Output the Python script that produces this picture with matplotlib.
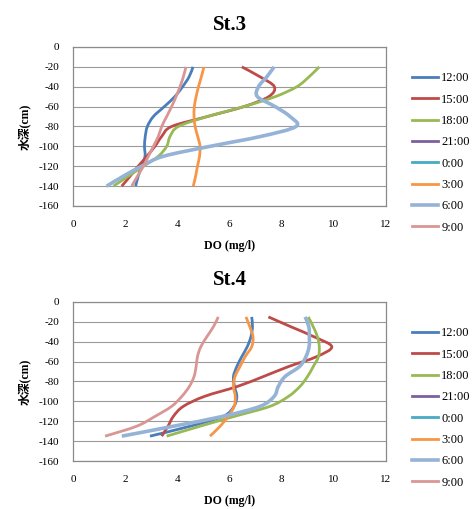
import matplotlib
matplotlib.use("Agg")
from matplotlib import pyplot as plt
from matplotlib.path import Path
from matplotlib.patches import PathPatch
import numpy as np

plt.rcParams['font.family'] = ['Liberation Serif', 'Noto Sans CJK JP']
plt.rcParams['axes.unicode_minus'] = False

# 水深 (cm)
depth3 = [-20, -30, -40, -50, -60, -70, -80, -90, -100, -110, -120, -130, -140]
depth4 = [-15, -25, -35, -45, -55, -65, -75, -85, -95, -105, -115, -125, -135]

times = ["12:00", "15:00", "18:00", "21:00", "0:00", "3:00", "6:00", "9:00"]
colors = ["#4A7EBB", "#BE4B48", "#98B954", "#7D60A0", "#46AAC5", "#F79646", "#95B3D7", "#D99694"]
widths = [2.0, 2.0, 2.0, 2.0, 2.0, 2.0, 2.6, 2.0]

# St.3 DO (mg/l)
s3_1200 = [4.60, 4.45, 4.20, 3.90, 3.50, 3.08, 2.85, 2.77, 2.74, 2.76, 2.63, 2.50, 2.40]
s3_1500 = [6.47, 7.17, 7.72, 7.50, 6.55, 5.15, 3.78, 3.40, 3.14, 2.83, 2.50, 2.19, 1.87]
s3_1800 = [9.44, 9.05, 8.58, 7.75, 6.55, 5.15, 4.04, 3.72, 3.59, 3.27, 2.70, 2.12, 1.55]
s3_2100 = []
s3_0000 = []
s3_0300 = [5.02, 4.92, 4.81, 4.72, 4.65, 4.64, 4.68, 4.78, 4.87, 4.85, 4.77, 4.70, 4.61]
s3_0600 = [7.71, 7.43, 7.11, 7.07, 7.75, 8.32, 8.55, 7.20, 5.25, 3.46, 2.63, 1.93, 1.29]
s3_0900 = [4.33, 4.23, 4.10, 3.95, 3.78, 3.59, 3.40, 3.27, 3.08, 2.89, 2.70, 2.47, 2.25]

# St.4 DO (mg/l)
s4_1200 = [6.85, 6.88, 6.82, 6.68, 6.47, 6.28, 6.15, 6.19, 6.28, 6.17, 5.76, 4.49, 2.95]
s4_1500 = [7.49, 8.36, 9.24, 9.92, 9.34, 8.26, 7.30, 6.30, 5.04, 4.23, 3.85, 3.64, 3.40]
s4_1800 = [9.02, 9.21, 9.37, 9.44, 9.41, 9.21, 8.99, 8.70, 8.26, 7.55, 6.20, 4.87, 3.59]
s4_2100 = []
s4_0000 = []
s4_0300 = [6.63, 6.78, 6.90, 6.85, 6.60, 6.40, 6.21, 6.15, 6.22, 6.18, 5.95, 5.64, 5.25]
s4_0600 = [8.90, 9.04, 9.06, 9.05, 8.93, 8.68, 8.13, 7.87, 7.71, 7.17, 5.76, 3.85, 1.87]
s4_0900 = [5.57, 5.38, 5.13, 4.90, 4.77, 4.72, 4.64, 4.46, 4.17, 3.78, 3.15, 2.44, 1.23]

st3 = [s3_1200, s3_1500, s3_1800, s3_2100, s3_0000, s3_0300, s3_0600, s3_0900]
st4 = [s4_1200, s4_1500, s4_1800, s4_2100, s4_0000, s4_0300, s4_0600, s4_0900]


# 平滑線 (Catmull-Rom -> cubic bezier)
def smoothPath(xs, ys):
    p = np.column_stack([xs, ys]).astype(float)
    n = len(p)
    verts = [p[0]]
    codes = [Path.MOVETO]
    for i in range(n - 1):
        p0 = p[i - 1] if i > 0 else p[i]
        p3 = p[i + 2] if i + 2 < n else p[i + 1]
        c1 = p[i] + (p[i + 1] - p0) / 6.0
        c2 = p[i + 1] - (p3 - p[i]) / 6.0
        verts += [c1, c2, p[i + 1]]
        codes += [Path.CURVE4] * 3
    return Path(verts, codes)


def drawStation(ax, title, depth, series):
    for vals, c, w, lab in zip(series, colors, widths, times):
        ax.plot([], [], color=c, lw=w, label=lab)
        if len(vals) > 1:
            ax.add_patch(PathPatch(smoothPath(vals, depth[:len(vals)]), fill=False,
                                   edgecolor=c, lw=w, capstyle='butt', zorder=3))
    ax.set_xlim(0, 12)
    ax.set_ylim(-160, 0)
    ax.set_xticks(range(0, 13, 2))
    ax.set_yticks(range(-160, 1, 20))
    ax.tick_params(length=0, labelsize=8, pad=10)
    ax.grid(axis='y', color='#9a9a9a', lw=0.8)
    ax.set_axisbelow(True)
    for s in ax.spines.values():
        s.set_color('#8a8a8a')
        s.set_linewidth(0.9)
    ax.set_title(title, fontsize=15, fontweight='bold', pad=12)
    ax.set_xlabel("DO (mg/l)", fontsize=8.5, fontweight='bold', labelpad=8)
    ax.set_ylabel("水深(cm)", fontsize=8.5, fontweight='bold', labelpad=5)
    ax.legend(loc='center left', bbox_to_anchor=(1.083, 0.333), frameon=False,
              fontsize=9, handlelength=2.1, handletextpad=0.25, labelspacing=0.75,
              borderaxespad=0, borderpad=0)


fig = plt.figure(figsize=(4.75, 5.09), dpi=100)
ax3 = fig.add_axes([0.1537, 0.5953, 0.659, 0.3124])
ax4 = fig.add_axes([0.1537, 0.0943, 0.659, 0.3124])
drawStation(ax3, "St.3", depth3, st3)
drawStation(ax4, "St.4", depth4, st4)

fig.savefig("out.png", dpi=100)
